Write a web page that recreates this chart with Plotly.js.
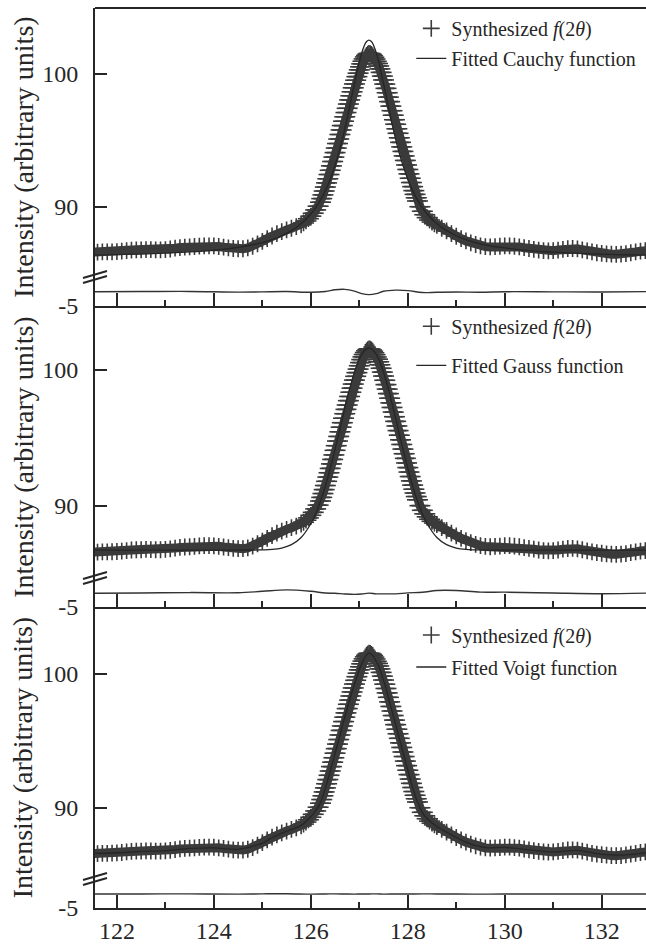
<!DOCTYPE html>
<html>
<head>
<meta charset="utf-8">
<script src="https://cdn.plot.ly/plotly-3.0.1.min.js"></script>
<style>html,body{margin:0;padding:0;background:#fff;}#chart{width:646px;height:945px;}</style>
</head>
<body>
<div id="chart"></div>
<script>
// ---- synthesized profile f(2θ) (same data in all three panels) ----
const twoTheta = [
121.5,121.6,121.7,121.8,121.9,122.0,122.1,122.2,122.3,122.4,
122.5,122.6,122.7,122.8,122.9,123.0,123.1,123.2,123.3,123.4,
123.5,123.6,123.7,123.8,123.9,124.0,124.1,124.2,124.3,124.4,
124.5,124.6,124.7,124.8,124.9,125.0,125.1,125.2,125.3,125.4,
125.5,125.6,125.7,125.8,
125.85,125.9,125.95,126.0,126.05,126.1,126.15,126.2,
126.225,126.25,126.275,126.3,126.325,126.35,126.375,126.4,126.425,126.45,
126.475,126.5,126.525,126.55,126.575,126.6,126.625,126.65,126.675,126.7,
126.725,126.75,126.775,126.8,126.825,126.85,126.875,126.9,126.925,126.95,
126.975,127.0,127.025,127.05,127.075,127.1,127.125,127.15,127.175,127.2,
127.225,127.25,127.275,127.3,127.325,127.35,127.375,127.4,127.425,127.45,
127.475,127.5,127.525,127.55,127.575,127.6,127.625,127.65,127.675,127.7,
127.725,127.75,127.775,127.8,127.825,127.85,127.875,127.9,127.925,127.95,
127.975,128.0,128.025,128.05,128.075,128.1,128.125,128.15,128.175,128.2,
128.25,128.3,128.35,128.4,128.45,128.5,128.55,128.6,
128.7,128.8,128.9,129.0,129.1,129.2,129.3,129.4,129.5,129.6,
129.7,129.8,129.9,130.0,130.1,130.2,130.3,130.4,130.5,130.6,
130.7,130.8,130.9,131.0,131.1,131.2,131.3,131.4,131.5,131.6,
131.7,131.8,131.9,132.0,132.1,132.2,132.3,132.4,132.5,132.6,
132.7,132.8,132.9,133.0
];
const synthesized = [
86.60,86.60,86.62,86.62,86.63,86.65,86.68,86.72,86.76,86.78,
86.78,86.80,86.79,86.78,86.78,86.80,86.84,86.90,86.95,86.98,
87.00,87.03,87.06,87.08,87.08,87.07,87.03,86.98,86.93,86.88,
86.86,86.86,86.92,87.05,87.22,87.42,87.62,87.82,88.00,88.15,
88.28,88.40,88.52,88.66,
88.80,88.95,89.12,89.31,89.53,89.78,90.06,90.36,
90.63,90.91,91.20,91.50,91.81,92.12,92.44,92.76,93.09,93.42,
93.75,94.09,94.43,94.77,95.11,95.45,95.79,96.12,96.45,96.78,
97.10,97.42,97.74,98.05,98.36,98.66,98.96,99.25,99.53,99.80,
100.06,100.31,100.54,100.76,100.96,101.13,101.28,101.40,101.49,101.55,
101.53,101.47,101.38,101.26,101.12,100.95,100.79,100.60,100.38,100.12,
99.84,99.55,99.24,98.92,98.59,98.26,97.92,97.58,97.24,96.90,
96.56,96.22,95.88,95.54,95.20,94.86,94.52,94.18,93.84,93.50,
93.16,92.82,92.49,92.16,91.84,91.53,91.23,90.95,90.69,90.45,
90.02,89.68,89.42,89.20,89.02,88.87,88.74,88.62,
88.40,88.20,88.00,87.80,87.62,87.45,87.30,87.18,87.08,87.02,
87.00,87.02,87.05,87.08,87.08,87.05,87.00,86.94,86.88,86.82,
86.76,86.72,86.70,86.72,86.76,86.82,86.87,86.88,86.85,86.78,
86.70,86.62,86.56,86.52,86.48,86.45,86.44,86.45,86.50,86.56,
86.62,86.68,86.72,86.74
];

// ---- fitted curves ----
const fitTheta = [
121.5,122,122.5,123,123.5,124,124.5,125,125.2,125.4,
125.6,125.8,126,126.1,126.2,126.3,126.4,126.5,126.6,126.7,
126.8,126.9,127,127.05,127.1,127.15,127.2,127.25,127.3,127.35,
127.4,127.5,127.6,127.7,127.8,127.9,128,128.1,128.2,128.3,
128.4,128.6,128.8,129,129.2,129.4,129.6,130,130.5,131,
131.5,132,132.5,133
];
const cauchyFit = [
86.38,86.42,86.46,86.53,86.62,86.76,86.97,87.33,87.55,87.84,
88.22,88.74,89.47,89.95,90.53,91.23,92.08,93.13,94.38,95.85,
97.52,99.28,100.92,101.59,102.11,102.44,102.55,102.44,102.11,101.59,
100.92,99.28,97.52,95.85,94.38,93.13,92.08,91.23,90.53,89.95,
89.47,88.74,88.22,87.84,87.55,87.33,87.16,86.92,86.72,86.60,
86.51,86.45,86.41,86.37
];
const gaussFit = [
86.75,86.75,86.75,86.75,86.75,86.75,86.75,86.77,86.80,86.90,
87.15,87.68,88.69,89.43,90.36,91.47,92.75,94.18,95.67,97.17,
98.59,99.83,100.78,101.14,101.39,101.55,101.60,101.55,101.39,101.14,
100.78,99.83,98.59,97.17,95.67,94.18,92.75,91.47,90.36,89.43,
88.69,87.68,87.15,86.90,86.80,86.77,86.75,86.75,86.75,86.75,
86.75,86.75,86.75,86.75
];
const voigtFit = [
86.62,86.66,86.76,86.82,86.98,87.02,86.92,87.38,87.78,88.12,
88.40,88.70,89.35,89.80,90.40,91.48,92.74,94.08,95.44,96.78,
98.06,99.24,100.30,100.76,101.14,101.42,101.56,101.48,101.26,100.94,
100.58,99.54,98.26,96.90,95.54,94.18,92.82,91.52,90.44,89.66,
89.20,88.62,88.20,87.80,87.46,87.20,87.04,87.06,86.88,86.72,
86.84,86.54,86.50,86.72
];

// ---- residuals (lower strips) ----
const resTheta = [121.5,122.5,123.5,124.5,125,125.5,126,126.3,126.5,126.7,
126.9,127.05,127.2,127.35,127.5,127.75,128,128.3,128.6,129,
129.5,130,131,132,133];
const cauchyRes = [0.1,0.15,0.2,-0.05,0.05,0.15,-0.1,0.2,0.8,0.95,
0.3,-0.6,-0.95,-0.6,0.25,0.65,0.5,-0.2,-0.1,0,
-0.1,0.1,0.05,0,0.15];
const gaussRes = [-0.1,0,0.15,0.1,0.6,1.1,0.6,0,-0.1,-0.35,
-0.5,-0.35,-0.05,-0.3,-0.3,-0.3,0.05,0.25,0.9,0.9,
0.3,0.3,0,-0.25,0];
const voigtRes = [0,0,0.05,-0.05,0.05,0.1,-0.05,0,0.05,0,
-0.05,0,0,0.05,-0.05,0,0,0.05,0,0,
-0.05,0,0,0,0];

const fitNames = ['Fitted Cauchy function','Fitted Gauss function','Fitted Voigt function'];
const synthName = 'Synthesized <i>f</i>(2<i>θ</i>)';
const yTitle = 'Intensity (arbitrary units)';
const mainTicks = [90, 100];
const resTicks = [-5];
const xTicks = [122,124,126,128,130,132];

const INK = '#262626';
const BAND = '#3b3b3b';
const FONT = 'Liberation Serif';

const fits = [cauchyFit, gaussFit, voigtFit];
const resids = [cauchyRes, gaussRes, voigtRes];

// panel geometry (paper fractions)
const panels = [
  {main:[0.69111,1.0], res:[0.66889,0.69111], range:[84.06,104.96], legY:0.999, gap:1, titleY:0.8344, brk:[278,283]},
  {main:[0.35667,0.66889], res:[0.33444,0.35667], range:[84.04,104.70], legY:0.668, gap:10, titleY:0.5011, brk:[579,584]},
  {main:[0.02222,0.33444], res:[0.0,0.02222], range:[84.03,105.00], legY:0.325, gap:3, titleY:0.1672, brk:[880,885]}
];

const traces = [];
const layout = {
  width:646, height:945,
  margin:{l:95, r:0, t:8, b:37},
  paper_bgcolor:'#ffffff', plot_bgcolor:'#ffffff',
  font:{family:FONT, color:INK, size:22},
  showlegend:true,
  shapes:[], annotations:[]
};

panels.forEach((p, i) => {
  const xa = i === 0 ? 'x' : 'x' + (i + 1);
  const yMainN = 2 * i + 1, yResN = 2 * i + 2;
  const yMain = yMainN === 1 ? 'y' : 'y' + yMainN;
  const yRes = 'y' + yResN;
  const leg = i === 0 ? 'legend' : 'legend' + (i + 1);

  // solid core of the dense "+" band
  traces.push({x:twoTheta, y:synthesized, xaxis:xa, yaxis:yMain, mode:'lines',
    line:{color:BAND, width:9}, showlegend:false, hoverinfo:'skip'});
  // horizontal arms that form the comb on the steep flanks
  traces.push({x:twoTheta, y:synthesized, xaxis:xa, yaxis:yMain, mode:'markers',
    marker:{symbol:'line-ew', size:15, color:BAND, line:{color:BAND, width:1.6}},
    showlegend:false, hoverinfo:'skip'});
  // the "+" markers themselves
  traces.push({x:twoTheta, y:synthesized, xaxis:xa, yaxis:yMain, mode:'markers',
    marker:{symbol:'cross-thin', size:12, color:BAND, line:{color:BAND, width:1.6}},
    name:synthName, legend:leg, legendgroup:'s' + i});
  traces.push({x:fitTheta, y:fits[i], xaxis:xa, yaxis:yMain, mode:'lines',
    line:{color:INK, width:1.3, shape:'spline'}, name:fitNames[i], legend:leg, legendgroup:'f' + i});
  traces.push({x:resTheta, y:resids[i], xaxis:xa, yaxis:yRes, mode:'lines',
    line:{color:'#333333', width:1.4, shape:'spline'}, showlegend:false, hoverinfo:'skip'});

  const xKey = i === 0 ? 'xaxis' : 'xaxis' + (i + 1);
  layout[xKey] = {
    domain:[0,1], anchor:yRes, range:[121.548,132.914],
    showline:true, linecolor:INK, linewidth:2, mirror:false,
    ticks:'inside', ticklen:13, tickwidth:2, tickcolor:INK,
    tickvals:xTicks, ticktext:xTicks.map(String),
    minor:{dtick:1, tick0:121, ticks:'inside', ticklen:6, tickwidth:2, tickcolor:INK},
    showgrid:false, zeroline:false, showticklabels:(i === 2),
    tickfont:{family:FONT, size:24, color:INK}, ticklabelstandoff:0
  };
  if (i > 0) layout[xKey].matches = 'x';
  layout[yMainN === 1 ? 'yaxis' : 'yaxis' + yMainN] = {
    domain:p.main, anchor:xa, range:p.range,
    showline:true, linecolor:INK, linewidth:2,
    ticks:'inside', ticklen:12, tickwidth:2, tickcolor:INK,
    tickvals:mainTicks, ticktext:mainTicks.map(String),
    showgrid:false, zeroline:false,
    tickfont:{family:FONT, size:24, color:INK}, ticklabelstandoff:10
  };
  layout['yaxis' + yResN] = {
    domain:p.res, anchor:xa, range:[-5, 2.14],
    showline:true, linecolor:INK, linewidth:2,
    ticks:'', tickvals:resTicks, ticktext:resTicks.map(String),
    showgrid:false, zeroline:false,
    tickfont:{family:FONT, size:24, color:INK}, ticklabelstandoff:10
  };
  layout[leg] = {
    x:0.574, y:p.legY, xanchor:'left', yanchor:'top',
    bgcolor:'rgba(0,0,0,0)', borderwidth:0,
    font:{family:FONT, size:20, color:INK},
    traceorder:'grouped', tracegroupgap:p.gap, itemwidth:30
  };
  layout.annotations.push({
    xref:'paper', yref:'paper', x:-0.131, y:p.titleY, xanchor:'center', yanchor:'middle',
    text:yTitle, textangle:-90, showarrow:false,
    font:{family:FONT, size:28, color:INK}
  });
  // axis-break marks
  p.brk.forEach(yb => {
    layout.shapes.push({type:'line', xref:'paper', yref:'paper',
      x0:(83 - 95) / 551, x1:(107 - 95) / 551,
      y0:(908 - yb) / 900, y1:(908 - (yb - 7)) / 900,
      line:{color:INK, width:2}});
  });
});
// top frame line of the first panel
layout.shapes.push({type:'line', xref:'paper', yref:'paper', x0:0, x1:1, y0:1, y1:1,
  line:{color:INK, width:2}});

Plotly.newPlot('chart', traces, layout, {staticPlot:true, displayModeBar:false});
</script>
</body>
</html>
